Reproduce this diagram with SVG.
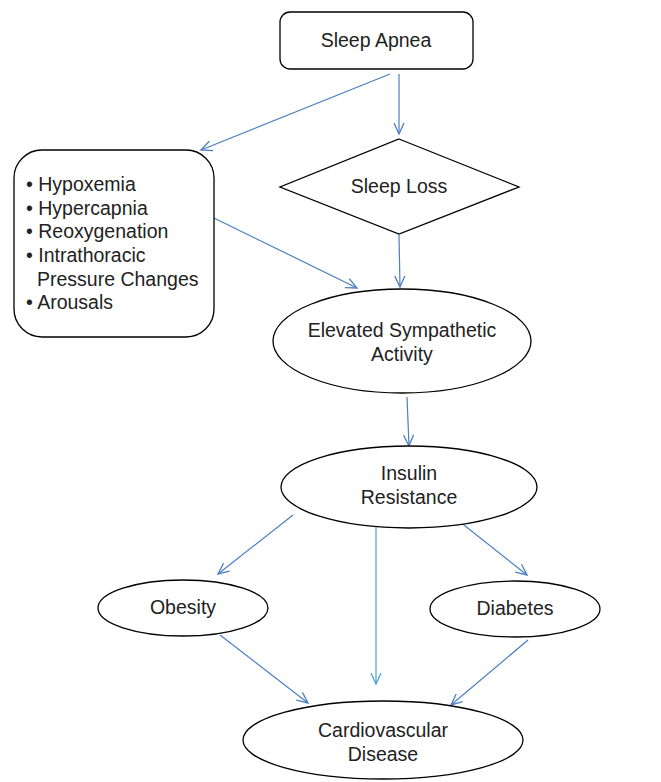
<svg xmlns="http://www.w3.org/2000/svg" width="661" height="782" viewBox="0 0 661 782">
<defs>
<marker id="ah" markerWidth="14" markerHeight="14" refX="12" refY="6" orient="auto" markerUnits="userSpaceOnUse">
<path d="M1,1 L12,6 L1,11" fill="none" stroke="#4a7fc1" stroke-width="1.3"/>
</marker>
<marker id="ah2" markerWidth="14" markerHeight="14" refX="12" refY="6" orient="auto" markerUnits="userSpaceOnUse">
<path d="M1,1 L12,6 L1,11" fill="none" stroke="#4aa6cc" stroke-width="1.3"/>
</marker>
<style>
.n{fill:#fff;stroke:#000;stroke-width:1.3}
.t{font-family:"Liberation Sans",Arial,sans-serif;font-size:19.5px;fill:#222}
.c{text-anchor:middle}
.e{stroke:#4a7fc1;stroke-width:1.2;fill:none;marker-end:url(#ah)}
</style>
</defs>
<rect width="661" height="782" fill="#fff"/>
<g id="connectors">
<line class="e" x1="399" y1="74" x2="399" y2="134"/>
<line class="e" x1="390" y1="74" x2="201" y2="150"/>
<line class="e" x1="214" y1="218" x2="357" y2="288"/>
<line class="e" x1="399" y1="235" x2="400" y2="287"/>
<line class="e" x1="407" y1="397" x2="409" y2="446"/>
<line class="e" x1="293" y1="515" x2="218" y2="574"/>
<line x1="376" y1="527" x2="376" y2="684" stroke="#4aa6cc" stroke-width="1.2" marker-end="url(#ah2)"/>
<line class="e" x1="450" y1="514" x2="527" y2="575"/>
<line class="e" x1="220" y1="635" x2="308" y2="703"/>
<line class="e" x1="528" y1="640" x2="451" y2="705"/>
</g>
<g id="sleep-apnea">
<rect class="n" x="280" y="12" width="193" height="57" rx="10"/>
<text class="t c" x="376" y="47">Sleep Apnea</text>
</g>
<g id="sleep-loss">
<polygon class="n" points="399,139 519,187 399,234 280,187"/>
<text class="t c" x="399" y="193">Sleep Loss</text>
</g>
<g id="mechanisms">
<rect class="n" x="14" y="150" width="200" height="187" rx="28"/>
<text class="t" x="26" y="191">• Hypoxemia</text>
<text class="t" x="26" y="215">• Hypercapnia</text>
<text class="t" x="26" y="238">• Reoxygenation</text>
<text class="t" x="26" y="262">• Intrathoracic</text>
<text class="t" x="37" y="286">Pressure Changes</text>
<text class="t" x="26" y="309">• Arousals</text>
</g>
<g id="sympathetic">
<ellipse class="n" cx="402" cy="341" rx="129" ry="52"/>
<text class="t c" x="402" y="337">Elevated Sympathetic</text>
<text class="t c" x="402" y="361">Activity</text>
</g>
<g id="insulin">
<ellipse class="n" cx="409" cy="487" rx="128" ry="41"/>
<text class="t c" x="409" y="480">Insulin</text>
<text class="t c" x="409" y="504">Resistance</text>
</g>
<g id="obesity">
<ellipse class="n" cx="183" cy="608" rx="85" ry="28"/>
<text class="t c" x="183" y="614">Obesity</text>
</g>
<g id="diabetes">
<ellipse class="n" cx="515" cy="609" rx="85" ry="28"/>
<text class="t c" x="515" y="615">Diabetes</text>
</g>
<g id="cvd">
<ellipse class="n" cx="383" cy="740" rx="140" ry="39"/>
<text class="t c" x="383" y="737">Cardiovascular</text>
<text class="t c" x="383" y="761">Disease</text>
</g>
</svg>
